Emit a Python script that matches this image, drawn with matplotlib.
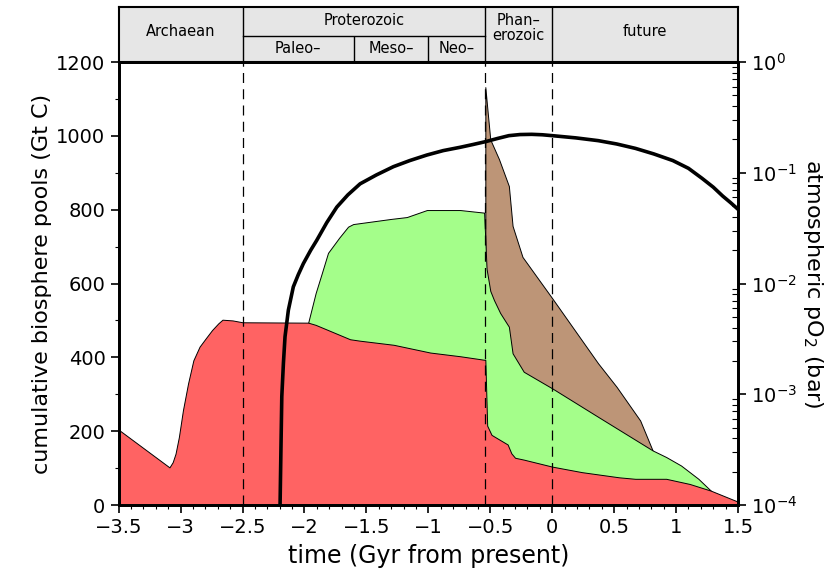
import numpy as np
import matplotlib
matplotlib.use("Agg")
import matplotlib.pyplot as plt

plt.rcParams['font.family'] = ['DejaVu Sans']
plt.rcParams['mathtext.default'] = 'regular'

# kabuk sınırları (Gyr, günümüzden önce negatif)
t_kirmizi = [-3.5, -3.09, -3.064, -3.041, -3.014, -2.981, -2.94, -2.897, -2.847, -2.796,
             -2.746, -2.696, -2.662, -2.58, -2.5, -1.97,
             -1.91, -1.632, -1.55, -1.28, -0.985, -0.743, -0.54, -0.525, -0.49, -0.36,
             -0.33, -0.30, -0.23, 0.0, 0.24, 0.54, 0.67, 0.92, 1.11, 1.28, 1.5]
v_kirmizi = [204, 102, 116, 139, 184, 257, 329, 392, 429, 452,
             474, 492, 502, 500, 495, 494,
             488, 449, 445, 434, 413, 403, 393, 215, 190, 164,
             140, 128, 123, 104, 89, 75, 71, 71, 57, 39, 9]

t_yesil = [-1.97, -1.91, -1.86, -1.81, -1.72, -1.648, -1.607, -1.30, -1.174, -1.012,
           -0.743, -0.55, -0.53, -0.50, -0.47, -0.42, -0.35, -0.32, -0.23, 0.0,
           0.37, 0.81, 0.92, 1.04, 1.18, 1.28]
v_yesil = [494, 574, 628, 683, 724, 754, 761, 775, 780, 799,
           799, 792, 640, 580, 555, 520, 483, 411, 361, 316,
           239, 148, 130, 107, 71, 39]

t_kahve = [-0.54, -0.52, -0.50, -0.43, -0.35, -0.32, -0.24, 0.0, 0.37, 0.52, 0.71, 0.81]
v_kahve = [1132, 1060, 990, 937, 864, 756, 672, 560, 384, 320, 229, 148]

# atmosferik pO2, log10(bar)
t_o2 = [-2.2, -2.197, -2.19, -2.183, -2.17, -2.157, -2.13, -2.09, -2.05, -2.009,
        -1.95, -1.901, -1.82, -1.739, -1.65, -1.551, -1.42, -1.282, -1.15, -1.012,
        -0.88, -0.743, -0.64, -0.534, -0.44, -0.35, -0.26, -0.166, -0.08, 0.0,
        0.19, 0.371, 0.52, 0.672, 0.82, 0.974, 1.10, 1.209, 1.30, 1.376, 1.44, 1.5]
log_o2 = [-4.3, -4.0, -3.5, -3.02, -2.72, -2.48, -2.24, -2.03, -1.92, -1.82,
          -1.70, -1.61, -1.45, -1.31, -1.20, -1.10, -1.02, -0.945, -0.89, -0.84,
          -0.80, -0.77, -0.745, -0.718, -0.69, -0.665, -0.655, -0.653, -0.657, -0.665,
          -0.685, -0.71, -0.74, -0.78, -0.83, -0.89, -0.96, -1.05, -1.13, -1.21, -1.27, -1.33]

# jeolojik zaman dilimleri
sinirlar = [-2.5, -0.54, 0.0]
alt_sinirlar = [-1.6, -1.0]
x_etiket = ['\u22123.5', '\u22123', '\u22122.5', '\u22122', '\u22121.5', '\u22121',
            '\u22120.5', '0', '0.5', '1', '1.5']

fig = plt.figure(figsize=(8.38, 5.72), dpi=100)
ax = fig.add_axes([0.1416, 0.1171, 0.7391, 0.7745])

ax.fill_between(t_kahve, 0, v_kahve, facecolor='#bd9577', edgecolor='k', lw=0.7)
ax.fill_between(t_yesil, 0, v_yesil, facecolor='#a4fe8a', edgecolor='k', lw=0.7)
ax.fill_between(t_kirmizi, 0, v_kirmizi, facecolor='#ff6363', edgecolor='k', lw=0.7)

for s in sinirlar:
    ax.axvline(s, color='k', lw=0.9, ls=(0, (8, 5)))

ax.set_xlim(-3.5, 1.5)
ax.set_ylim(0, 1200)
ax.set_xticks(np.arange(-3.5, 1.51, 0.5))
ax.set_xticklabels(x_etiket)
ax.set_xticks(np.arange(-3.5, 1.51, 0.1), minor=True)
ax.set_yticks(np.arange(0, 1201, 200))
ax.set_yticks(np.arange(100, 1200, 200), minor=True)
ax.tick_params(which='major', direction='out', length=6, width=1.2, labelsize=14)
ax.tick_params(which='minor', direction='out', length=3, width=0.8)
ax.set_xlabel('time (Gyr from present)', fontsize=17, labelpad=5)
ax.set_ylabel('cumulative biosphere pools (Gt C)', fontsize=16, labelpad=3)
for sp in ax.spines.values():
    sp.set_linewidth(2)

# sağ eksen: oksijen
ax2 = ax.twinx()
ax2.plot(t_o2, 10 ** np.array(log_o2), color='k', lw=2.6, solid_joinstyle='round')
ax2.set_yscale('log')
ax2.set_ylim(1e-4, 1)
ax2.tick_params(which='major', direction='out', length=6, width=1.2, labelsize=14)
ax2.tick_params(which='minor', direction='in', length=4, width=0.8)
ax2.set_ylabel('atmospheric pO$_2$ (bar)', fontsize=16, rotation=270, labelpad=20)
for sp in ax2.spines.values():
    sp.set_linewidth(2)

# üst başlık kutusu
hx = fig.add_axes([0.1416, 0.8916, 0.7391, 0.0962])
hx.set_facecolor('#e6e6e6')
hx.set_xlim(-3.5, 1.5)
hx.set_ylim(0, 1)
hx.set_xticks([])
hx.set_yticks([])
for sp in hx.spines.values():
    sp.set_linewidth(1.5)
for s in sinirlar:
    hx.axvline(s, color='k', lw=1)
hx.plot([-2.5, -0.54], [0.47, 0.47], color='k', lw=1)
hx.vlines(alt_sinirlar, 0, 0.47, color='k', lw=1)

hx.text(-3.0, 0.56, 'Archaean', ha='center', va='center', fontsize=10.5)
hx.text(-1.52, 0.76, 'Proterozoic', ha='center', va='center', fontsize=10.5)
hx.text(-2.05, 0.24, 'Paleo\u2013', ha='center', va='center', fontsize=10.5)
hx.text(-1.3, 0.24, 'Meso\u2013', ha='center', va='center', fontsize=10.5)
hx.text(-0.77, 0.24, 'Neo\u2013', ha='center', va='center', fontsize=10.5)
hx.text(-0.27, 0.62, 'Phan\u2013\nerozoic', ha='center', va='center', fontsize=10.5, linespacing=0.95)
hx.text(0.75, 0.56, 'future', ha='center', va='center', fontsize=10.5)

plt.savefig('out.png', dpi=100)
